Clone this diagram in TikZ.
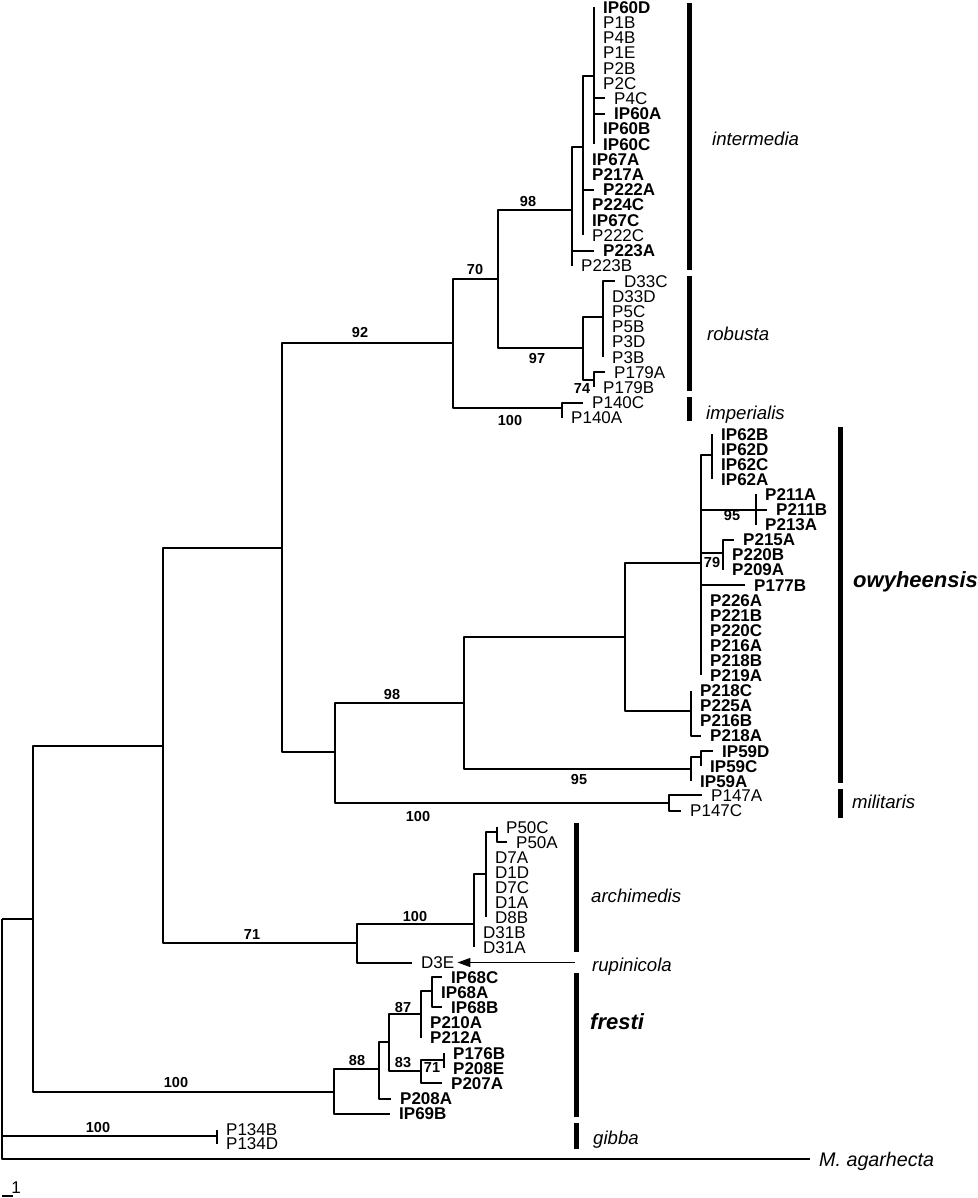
\documentclass[tikz,border=0pt]{standalone}
\usepackage{fontspec}
\setmainfont{Liberation Sans}
\usetikzlibrary{arrows.meta}
\begin{document}
\begin{tikzpicture}[x=1pt,y=-1pt,
 br/.style={line width=2pt, line join=round},
 leaf/.style={anchor=west, inner xsep=9pt, inner ysep=0pt, font=\fontsize{17}{17}\selectfont, text height=12.2pt, text depth=0pt},
 bleaf/.style={leaf, font=\fontsize{17}{17}\selectfont\bfseries},
 bs/.style={inner sep=0pt, font=\fontsize{14.5}{14.5}\selectfont\bfseries},
 bar/.style={line width=5pt},
 sp/.style={anchor=west, inner sep=0pt, font=\fontsize{18.6}{18.6}\selectfont\itshape, text height=13.3pt, text depth=0pt},
 bsp/.style={sp, font=\fontsize{22}{22}\selectfont\bfseries\itshape, text height=15.8pt}]
\useasboundingbox (0,0) rectangle (977,1198);

% internal nodes
\coordinate (n594) at (594,76);
\coordinate (n583) at (583,147);
\coordinate (n572) at (572,210);
\coordinate (n498) at (498,279);
\coordinate (n583r) at (583,348);
\coordinate (n603) at (603,317);
\coordinate (n594r) at (594,379.7);
\coordinate (n453) at (453,343);
\coordinate (n562) at (562,408);
\coordinate (n282) at (282,548);
\coordinate (n335) at (335,752);
\coordinate (n669) at (669,803);
\coordinate (n464) at (464,703);
\coordinate (n625) at (625,637);
\coordinate (n701) at (701,563);
\coordinate (n712) at (712,455);
\coordinate (n756) at (756,509.5);
\coordinate (n723) at (723,553);
\coordinate (n691a) at (691,711);
\coordinate (n691b) at (691,768.5);
\coordinate (n701b) at (701,757);
\coordinate (n163) at (163,745.5);
\coordinate (n357) at (357,943);
\coordinate (n474) at (474,924);
\coordinate (n486) at (486,874);
\coordinate (n497) at (497,832);
\coordinate (n33) at (33,918.5);
\coordinate (n334) at (334,1092);
\coordinate (n379) at (379,1069);
\coordinate (n389) at (389,1042);
\coordinate (n421a) at (421,1014);
\coordinate (n432) at (432,991);
\coordinate (n421b) at (421,1071);
\coordinate (n444) at (444,1060);
\coordinate (root) at (2,918.5);
\coordinate (n217) at (217,1136);

% intermedia
\node[bleaf] (IP60D) at (594,7.3) {IP60D};
\node[leaf] (P1B) at (594,22.5) {P1B};
\node[leaf] (P4B) at (594,37.7) {P4B};
\node[leaf] (P1E) at (594,52.9) {P1E};
\node[leaf] (P2B) at (594,68.1) {P2B};
\node[leaf] (P2C) at (594,83.3) {P2C};
\node[leaf] (P4C) at (605,98.5) {P4C};
\node[bleaf] (IP60A) at (605,113.7) {IP60A};
\node[bleaf] (IP60B) at (594,128.9) {IP60B};
\node[bleaf] (IP60C) at (594,144.1) {IP60C};
\node[bleaf] (IP67A) at (583,159.3) {IP67A};
\node[bleaf] (P217A) at (583,174.5) {P217A};
\node[bleaf] (P222A) at (594,189.7) {P222A};
\node[bleaf] (P224C) at (583,204.9) {P224C};
\node[bleaf] (IP67C) at (583,220.1) {IP67C};
\node[leaf] (P222C) at (583,235.3) {P222C};
\node[bleaf] (P223A) at (594,250.5) {P223A};
\node[leaf] (P223B) at (572,265.7) {P223B};
% robusta
\node[leaf] (D33C) at (615,280.9) {D33C};
\node[leaf] (D33D) at (603,296.1) {D33D};
\node[leaf] (P5C) at (603,311.3) {P5C};
\node[leaf] (P5B) at (603,326.5) {P5B};
\node[leaf] (P3D) at (603,341.7) {P3D};
\node[leaf] (P3B) at (603,356.9) {P3B};
\node[leaf] (P179A) at (605,372.1) {P179A};
\node[leaf] (P179B) at (594,387.3) {P179B};
% imperialis
\node[leaf] (P140C) at (583,402.5) {P140C};
\node[leaf] (P140A) at (562,417.7) {P140A};
% owyheensis
\node[bleaf] (IP62B) at (712,434) {IP62B};
\node[bleaf] (IP62D) at (712,449.1) {IP62D};
\node[bleaf] (IP62C) at (712,464.2) {IP62C};
\node[bleaf] (IP62A) at (712,479.3) {IP62A};
\node[bleaf] (P211A) at (756,494.4) {P211A};
\node[bleaf] (P211B) at (767,509.5) {P211B};
\node[bleaf] (P213A) at (756,524.5) {P213A};
\node[bleaf] (P215A) at (734,539.6) {P215A};
\node[bleaf] (P220B) at (723,554.7) {P220B};
\node[bleaf] (P209A) at (723,569.8) {P209A};
\node[bleaf] (P177B) at (745,584.9) {P177B};
\node[bleaf] (P226A) at (701,600) {P226A};
\node[bleaf] (P221B) at (701,615.1) {P221B};
\node[bleaf] (P220C) at (701,630.2) {P220C};
\node[bleaf] (P216A) at (701,645.3) {P216A};
\node[bleaf] (P218B) at (701,660.4) {P218B};
\node[bleaf] (P219A) at (701,675.4) {P219A};
\node[bleaf] (P218C) at (691,690.5) {P218C};
\node[bleaf] (P225A) at (691,705.6) {P225A};
\node[bleaf] (P216B) at (691,720.7) {P216B};
\node[bleaf] (P218A) at (701,735.8) {P218A};
\node[bleaf] (IP59D) at (713,750.9) {IP59D};
\node[bleaf] (IP59C) at (701,766) {IP59C};
\node[bleaf] (IP59A) at (691,781.1) {IP59A};
% militaris
\node[leaf] (P147A) at (702,795) {P147A};
\node[leaf] (P147C) at (681,810.5) {P147C};
% archimedis
\node[leaf] (P50C) at (497,827) {P50C};
\node[leaf] (P50A) at (507,842) {P50A};
\node[leaf] (D7A) at (486,857) {D7A};
\node[leaf] (D1D) at (486,872) {D1D};
\node[leaf] (D7C) at (486,887) {D7C};
\node[leaf] (D1A) at (486,902) {D1A};
\node[leaf] (D8B) at (486,917) {D8B};
\node[leaf] (D31B) at (474,932) {D31B};
\node[leaf] (D31A) at (474,947) {D31A};
\node[leaf] (D3E) at (412,962.5) {D3E};
% fresti
\node[bleaf] (IP68C) at (442,977) {IP68C};
\node[bleaf] (IP68A) at (432,992.2) {IP68A};
\node[bleaf] (IP68B) at (442,1007.4) {IP68B};
\node[bleaf] (P210A) at (421,1022.6) {P210A};
\node[bleaf] (P212A) at (421,1037.8) {P212A};
\node[bleaf] (P176B) at (444,1053) {P176B};
\node[bleaf] (P208E) at (444,1068.2) {P208E};
\node[bleaf] (P207A) at (442,1083.4) {P207A};
\node[bleaf] (P208A) at (391,1098.6) {P208A};
\node[bleaf] (IP69B) at (390,1113.8) {IP69B};
% gibba & outgroup
\node[leaf] (P134B) at (217,1129.5) {P134B};
\node[leaf] (P134D) at (217,1143.5) {P134D};
\node[sp, inner xsep=9pt, font=\fontsize{19.7}{19.7}\selectfont\itshape, text height=14.1pt] (Magar) at (810,1159) {M. agarhecta};

% branches
\foreach \c in {IP60D,P1B,P4B,P1E,P2B,P2C,P4C,IP60A,IP60B,IP60C} \draw[br] (n594) |- (\c.west);
\draw[br] (n583) |- (n594);
\foreach \c in {IP67A,P217A,P222A,P224C,IP67C,P222C} \draw[br] (n583) |- (\c.west);
\draw[br] (n572) |- (n583);
\foreach \c in {P223A,P223B} \draw[br] (n572) |- (\c.west);
\draw[br] (n498) |- (n572);
\draw[br] (n498) |- (n583r);
\draw[br] (n583r) |- (n603);
\draw[br] (n583r) |- (n594r);
\foreach \c in {D33C,D33D,P5C,P5B,P3D,P3B} \draw[br] (n603) |- (\c.west);
\foreach \c in {P179A,P179B} \draw[br] (n594r) |- (\c.west);
\draw[br] (n453) |- (n498);
\draw[br] (n453) |- (n562);
\foreach \c in {P140C,P140A} \draw[br] (n562) |- (\c.west);
\draw[br] (n282) |- (n453);
\draw[br] (n282) |- (n335);
\draw[br] (n335) |- (n464);
\draw[br] (n335) |- (n669);
\foreach \c in {P147A,P147C} \draw[br] (n669) |- (\c.west);
\draw[br] (n464) |- (n625);
\draw[br] (n464) |- (n691b);
\draw[br] (n625) |- (n701);
\draw[br] (n625) |- (n691a);
\draw[br] (n701) |- (n712);
\draw[br] (n701) |- (n756);
\draw[br] (n701) |- (n723);
\foreach \c in {P177B,P226A,P221B,P220C,P216A,P218B,P219A} \draw[br] (n701) |- (\c.west);
\foreach \c in {IP62B,IP62D,IP62C,IP62A} \draw[br] (n712) |- (\c.west);
\foreach \c in {P211A,P211B,P213A} \draw[br] (n756) |- (\c.west);
\foreach \c in {P215A,P220B,P209A} \draw[br] (n723) |- (\c.west);
\foreach \c in {P218C,P225A,P216B,P218A} \draw[br] (n691a) |- (\c.west);
\draw[br] (n691b) |- (n701b);
\draw[br] (n691b) |- (IP59A.west);
\foreach \c in {IP59D,IP59C} \draw[br] (n701b) |- (\c.west);
\draw[br] (n163) |- (n282);
\draw[br] (n163) |- (n357);
\draw[br] (n357) |- (n474);
\draw[br] (n357) |- (D3E.west);
\draw[br] (n474) |- (n486);
\foreach \c in {D31B,D31A} \draw[br] (n474) |- (\c.west);
\draw[br] (n486) |- (n497);
\foreach \c in {D7A,D1D,D7C,D1A,D8B} \draw[br] (n486) |- (\c.west);
\foreach \c in {P50C,P50A} \draw[br] (n497) |- (\c.west);
\draw[br] (n33) |- (n163);
\draw[br] (n33) |- (n334);
\draw[br] (n334) |- (n379);
\draw[br] (n334) |- (IP69B.west);
\draw[br] (n379) |- (n389);
\draw[br] (n379) |- (P208A.west);
\draw[br] (n389) |- (n421a);
\draw[br] (n389) |- (n421b);
\draw[br] (n421a) |- (n432);
\foreach \c in {P210A,P212A} \draw[br] (n421a) |- (\c.west);
\foreach \c in {IP68C,IP68A,IP68B} \draw[br] (n432) |- (\c.west);
\draw[br] (n421b) |- (n444);
\draw[br] (n421b) |- (P207A.west);
\foreach \c in {P176B,P208E} \draw[br] (n444) |- (\c.west);
\draw[br] (root) |- (n33);
\draw[br] (root) |- (n217);
\draw[br] (root) |- (Magar.west);
\foreach \c in {P134B,P134D} \draw[br] (n217) |- (\c.west);

% bootstrap values
\node[bs] (b1) at (528,202) {98};
\node[bs] (b2) at (475,270) {70};
\node[bs] (b3) at (360,333) {92};
\node[bs] (b4) at (537,359) {97};
\node[bs] (b5) at (582,389) {74};
\node[bs] (b6) at (510,421) {100};
\node[bs] (b7) at (732,516) {95};
\node[bs] (b8) at (712,563) {79};
\node[bs] (b9) at (392,695) {98};
\node[bs] (b10) at (579,779) {95};
\node[bs] (b11) at (418,816) {100};
\node[bs] (b12) at (415,916) {100};
\node[bs] (b13) at (252,935) {71};
\node[bs] (b14) at (403,1007) {87};
\node[bs] (b15) at (403,1063) {83};
\node[bs] (b16) at (432,1067) {71};
\node[bs] (b17) at (357,1060) {88};
\node[bs] (b18) at (176,1082) {100};
\node[bs] (b19) at (98,1127) {100};

% species bars
\draw[bar] (689,3) -- (689,270);
\draw[bar] (689,276) -- (689,391);
\draw[bar] (689,397) -- (689,421);
\draw[bar] (840,427) -- (840,783);
\draw[bar] (840,789) -- (840,818);
\draw[bar] (576,823) -- (576,952);
\draw[bar] (576,973) -- (576,1117);
\draw[bar] (576,1123) -- (576,1149);

% species labels
\node[sp] (s1) at (712,139) {intermedia};
\node[sp] (s2) at (707,334) {robusta};
\node[sp] (s3) at (706,413) {imperialis};
\node[bsp] (s4) at (853,580) {owyheensis};
\node[sp] (s5) at (852,802) {militaris};
\node[sp] (s6) at (591,896) {archimedis};
\node[sp] (s7) at (592,965) {rupinicola};
\node[bsp] (s8) at (590,1022) {fresti};
\node[sp] (s9) at (593,1138) {gibba};

% arrow to D3E
\coordinate (arrS) at (575,962.5);
\draw[line width=1.3pt, -{Triangle[length=13pt,width=9pt]}] (arrS) -- ([xshift=-6pt]D3E.east);

% scale bar
\coordinate (sb1) at (2,1196);
\coordinate (sb2) at (13,1196);
\draw[line width=1.5pt] (sb1) -- (sb2);
\node[inner sep=0pt, font=\fontsize{17}{17}\selectfont] (sbl) at (16,1188) {1};
\end{tikzpicture}
\end{document}
